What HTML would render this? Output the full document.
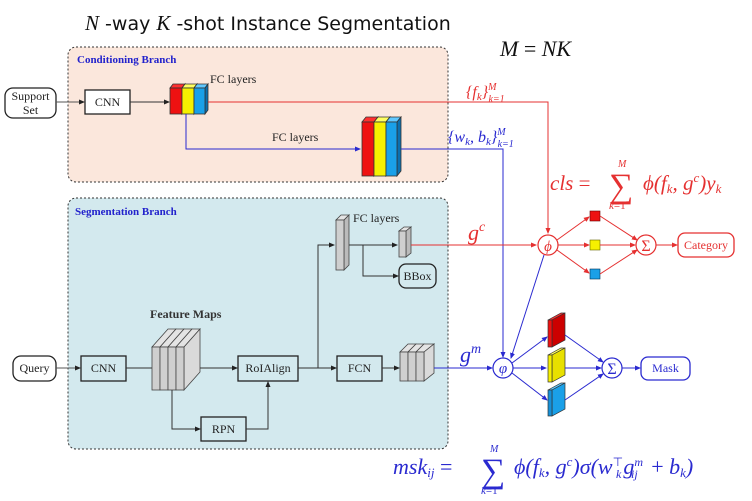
<!DOCTYPE html>
<html><head><meta charset="utf-8"><style>
html,body{margin:0;padding:0;background:#fff;}
svg{display:block;}
text{font-family:"Liberation Serif","DejaVu Serif",serif;}
.s{font-family:"Liberation Serif","DejaVu Serif",serif;font-size:12px;fill:#222;}
.m{font-family:"Liberation Serif",serif;font-style:italic;}
</style></head><body>
<svg width="752" height="501" viewBox="0 0 752 501" xmlns="http://www.w3.org/2000/svg">
<defs>
<marker id="ak" markerWidth="6" markerHeight="6" refX="5" refY="3" orient="auto"><path d="M0,0.5 L6,3 L0,5.5z" fill="#222"/></marker>
<marker id="ar" markerWidth="6" markerHeight="6" refX="5" refY="3" orient="auto"><path d="M0,0.5 L6,3 L0,5.5z" fill="#e53030"/></marker>
<marker id="ab" markerWidth="6" markerHeight="6" refX="5" refY="3" orient="auto"><path d="M0,0.5 L6,3 L0,5.5z" fill="#2a2ad0"/></marker>
</defs>

<!-- title -->
<text x="85" y="30" font-size="21" fill="#111"><tspan class="m">N</tspan><tspan font-family="DejaVu Sans, sans-serif" font-size="19"> -way  </tspan><tspan class="m">K</tspan><tspan font-family="DejaVu Sans, sans-serif" font-size="19"> -shot Instance Segmentation</tspan></text>
<text x="500" y="56" font-size="22" class="m" fill="#111">M <tspan font-style="normal">=</tspan> NK</text>

<!-- branches -->
<rect x="68" y="47" width="380" height="135" rx="8" fill="#fbe7dc" stroke="#333" stroke-dasharray="2,2"/>
<text x="77" y="63" font-size="11" fill="#2222cc" font-family="DejaVu Sans, sans-serif" font-weight="bold">Conditioning Branch</text>
<rect x="68" y="198" width="380" height="251" rx="8" fill="#d3e9ee" stroke="#333" stroke-dasharray="2,2"/>
<text x="75" y="215" font-size="11" fill="#2222cc" font-family="DejaVu Sans, sans-serif" font-weight="bold">Segmentation Branch</text>

<!-- conditioning -->
<rect x="5" y="88" width="51" height="30" rx="8" fill="#fff" stroke="#222" stroke-width="1.3"/>
<text x="30.5" y="100" class="s" text-anchor="middle">Support</text>
<text x="30.5" y="114" class="s" text-anchor="middle">Set</text>
<line x1="56" y1="102" x2="84" y2="102" stroke="#555" marker-end="url(#ak)"/>
<rect x="85" y="90" width="45" height="24" fill="#fff" stroke="#222" stroke-width="1.3"/>
<text x="107.5" y="106" class="s" text-anchor="middle">CNN</text>
<line x1="130" y1="102" x2="169" y2="102" stroke="#333" marker-end="url(#ak)"/>

<g stroke="#333" stroke-width="0.8">
<polygon points="170,88 182,88 185,84 173,84" fill="#ff3030"/><polygon points="182,88 185,84 185,110 182,114" fill="#b00"/><rect x="170" y="88" width="12" height="26" fill="#ee1111"/>
<polygon points="182,88 194,88 197,84 185,84" fill="#ffff60"/><polygon points="194,88 197,84 197,110 194,114" fill="#bb0"/><rect x="182" y="88" width="12" height="26" fill="#f6f000"/>
<polygon points="194,88 205,88 208,84 197,84" fill="#60c8ff"/><polygon points="205,88 208,84 208,110 205,114" fill="#0a70b0"/><rect x="194" y="88" width="11" height="26" fill="#1aa0e8"/>
</g>
<text x="210" y="83" class="s">FC layers</text>
<text x="272" y="141" class="s">FC layers</text>

<g stroke="#333" stroke-width="0.8">
<polygon points="362,122 374,122 378,117 366,117" fill="#ff3030"/><polygon points="374,122 378,117 378,171 374,176" fill="#b00"/><rect x="362" y="122" width="12" height="54" fill="#ee1111"/>
<polygon points="374,122 386,122 390,117 378,117" fill="#ffff60"/><polygon points="386,122 390,117 390,171 386,176" fill="#bb0"/><rect x="374" y="122" width="12" height="54" fill="#f6f000"/>
<polygon points="386,122 397,122 401,117 390,117" fill="#60c8ff"/><polygon points="397,122 401,117 401,171 397,176" fill="#0a70b0"/><rect x="386" y="122" width="11" height="54" fill="#1aa0e8"/>
</g>

<!-- red path f_k -->
<polyline points="208,102 548,102 548,233" fill="none" stroke="#e53030" stroke-width="1" marker-end="url(#ar)"/>
<text x="466" y="97" font-size="16" fill="#e53030" class="m">{f<tspan font-size="11" dy="3">k</tspan><tspan dy="-3">}</tspan><tspan font-size="10" dy="-7">M</tspan><tspan font-size="10" dx="-8" dy="12">k=1</tspan></text>
<!-- blue w,b -->
<polyline points="186,114 186,149 360,149" fill="none" stroke="#2a2ad0" marker-end="url(#ab)"/>
<polyline points="401,149 503,149 503,357" fill="none" stroke="#2a2ad0" marker-end="url(#ab)"/>
<text x="448" y="142" font-size="16" fill="#2a2ad0" class="m">{w<tspan font-size="11" dy="3">k</tspan><tspan dy="-3">, b</tspan><tspan font-size="11" dy="3">k</tspan><tspan dy="-3">}</tspan><tspan font-size="10" dy="-7">M</tspan><tspan font-size="10" dx="-8" dy="12">k=1</tspan></text>

<!-- cls formula -->
<text x="550" y="190" font-size="21" fill="#e53030" class="m">cls <tspan font-style="normal">=</tspan></text>
<text x="609" y="197" font-size="34" fill="#e53030">∑</text>
<text x="618" y="167" font-size="10" fill="#e53030" class="m">M</text>
<text x="609" y="209" font-size="11" fill="#e53030" class="m">k<tspan font-style="normal">=1</tspan></text>
<text x="643" y="190" font-size="21" fill="#e53030" class="m">ϕ(f<tspan font-size="13" dy="3">k</tspan><tspan dy="-3">, g</tspan><tspan font-size="13" dy="-8">c</tspan><tspan dy="8">)y</tspan><tspan font-size="13" dy="3">k</tspan></text>

<!-- seg branch -->
<rect x="13" y="356" width="43" height="25" rx="8" fill="#fff" stroke="#222" stroke-width="1.3"/>
<text x="34.5" y="372" class="s" text-anchor="middle">Query</text>
<line x1="56" y1="368" x2="80" y2="368" stroke="#555" marker-end="url(#ak)"/>
<rect x="81" y="356" width="45" height="25" fill="none" stroke="#222" stroke-width="1.3"/>
<text x="103.5" y="372" class="s" text-anchor="middle">CNN</text>
<line x1="126" y1="368" x2="152" y2="368" stroke="#333"/>
<text x="150" y="318" class="s" font-weight="bold" style="fill:#333">Feature Maps</text>
<g stroke="#444" stroke-width="0.8">
<polygon points="152,347 160,347 176,329 168,329" fill="#e4e4e4"/><rect x="152" y="347" width="8" height="43" fill="#cfcfcf"/>
<polygon points="160,347 168,347 184,329 176,329" fill="#e4e4e4"/><rect x="160" y="347" width="8" height="43" fill="#cfcfcf"/>
<polygon points="168,347 176,347 192,329 184,329" fill="#e4e4e4"/><rect x="168" y="347" width="8" height="43" fill="#cfcfcf"/>
<polygon points="176,347 184,347 200,329 192,329" fill="#e4e4e4"/><polygon points="184,347 200,329 200,372 184,390" fill="#dadada"/><rect x="176" y="347" width="8" height="43" fill="#cfcfcf"/>
</g>
<line x1="200" y1="368" x2="237" y2="368" stroke="#333" marker-end="url(#ak)"/>
<rect x="238" y="356" width="60" height="25" fill="none" stroke="#222" stroke-width="1.3"/>
<text x="268" y="372" class="s" text-anchor="middle">RoIAlign</text>
<polyline points="172,390 172,429 200,429" fill="none" stroke="#333" marker-end="url(#ak)"/>
<rect x="201" y="417" width="45" height="24" fill="none" stroke="#222" stroke-width="1.3"/>
<text x="223.5" y="433" class="s" text-anchor="middle">RPN</text>
<polyline points="246,429 268,429 268,382" fill="none" stroke="#333" marker-end="url(#ak)"/>
<line x1="298" y1="368" x2="336" y2="368" stroke="#333" marker-end="url(#ak)"/>
<polyline points="318,368 318,245 334,245" fill="none" stroke="#333" marker-end="url(#ak)"/>
<rect x="337" y="356" width="45" height="25" fill="none" stroke="#222" stroke-width="1.3"/>
<text x="359.5" y="372" class="s" text-anchor="middle">FCN</text>
<line x1="382" y1="368" x2="399" y2="368" stroke="#333" marker-end="url(#ak)"/>
<g stroke="#444" stroke-width="0.8">
<polygon points="400,352 408,352 416,344 408,344" fill="#e4e4e4"/><rect x="400" y="352" width="8" height="29" fill="#cfcfcf"/>
<polygon points="408,352 416,352 424,344 416,344" fill="#e4e4e4"/><rect x="408" y="352" width="8" height="29" fill="#cfcfcf"/>
<polygon points="416,352 424,352 434,344 424,344" fill="#e4e4e4"/><polygon points="424,352 434,344 434,373 424,381" fill="#dadada"/><rect x="416" y="352" width="8" height="29" fill="#cfcfcf"/>
</g>
<!-- FC bars -->
<g stroke="#444" stroke-width="0.8">
<polygon points="336,220 344,220 349,215 341,215" fill="#e4e4e4"/><polygon points="344,220 349,215 349,265 344,270" fill="#bbb"/><rect x="336" y="220" width="8" height="50" fill="#cfcfcf"/>
<polygon points="399,231 406,231 411,227 404,227" fill="#e4e4e4"/><polygon points="406,231 411,227 411,253 406,257" fill="#bbb"/><rect x="399" y="231" width="7" height="26" fill="#cfcfcf"/>
</g>
<text x="353" y="222" class="s">FC layers</text>
<line x1="349" y1="245" x2="397" y2="245" stroke="#333" marker-end="url(#ak)"/>
<polyline points="363,245 363,276 398,276" fill="none" stroke="#333" marker-end="url(#ak)"/>
<rect x="399" y="264" width="37" height="24" rx="7" fill="none" stroke="#222" stroke-width="1.3"/>
<text x="417.5" y="280" class="s" text-anchor="middle">BBox</text>

<!-- g^c path -->
<line x1="411" y1="245" x2="536" y2="245" stroke="#e53030" marker-end="url(#ar)"/>
<text x="468" y="240" font-size="22" fill="#e53030" class="m">g<tspan font-size="14" dy="-9">c</tspan></text>
<circle cx="548" cy="245" r="10" fill="#fff" stroke="#e53030" stroke-width="1.2"/>
<text x="548" y="251" font-size="15" fill="#e53030" text-anchor="middle" class="m">ϕ</text>
<line x1="557" y1="240" x2="589" y2="217" stroke="#e53030" marker-end="url(#ar)"/>
<line x1="558" y1="245" x2="589" y2="245" stroke="#e53030" marker-end="url(#ar)"/>
<line x1="557" y1="250" x2="589" y2="273" stroke="#e53030" marker-end="url(#ar)"/>
<rect x="590" y="211" width="10" height="10" fill="#ee1111" stroke="#600" stroke-width="0.6"/>
<rect x="590" y="240" width="10" height="10" fill="#f6f000" stroke="#660" stroke-width="0.6"/>
<rect x="590" y="269" width="10" height="10" fill="#1aa0e8" stroke="#035" stroke-width="0.6"/>
<line x1="600" y1="216" x2="637" y2="240" stroke="#e53030" marker-end="url(#ar)"/>
<line x1="600" y1="245" x2="635" y2="245" stroke="#e53030" marker-end="url(#ar)"/>
<line x1="600" y1="274" x2="637" y2="250" stroke="#e53030" marker-end="url(#ar)"/>
<circle cx="646" cy="245" r="10" fill="#fff" stroke="#e53030" stroke-width="1.2"/>
<text x="646" y="251" font-size="16" fill="#e53030" text-anchor="middle">Σ</text>
<line x1="656" y1="245" x2="677" y2="245" stroke="#e53030" marker-end="url(#ar)"/>
<rect x="678" y="233" width="56" height="24" rx="7" fill="#fff" stroke="#e53030" stroke-width="1.3"/>
<text x="706" y="249" class="s" style="fill:#e53030" text-anchor="middle">Category</text>

<!-- mask path -->
<line x1="544" y1="255" x2="511" y2="358" stroke="#2a2ad0" marker-end="url(#ab)"/>
<line x1="434" y1="368" x2="492" y2="368" stroke="#2a2ad0" marker-end="url(#ab)"/>
<text x="460" y="362" font-size="22" fill="#2a2ad0" class="m">g<tspan font-size="14" dy="-9">m</tspan></text>
<circle cx="503" cy="368" r="10" fill="#fff" stroke="#2a2ad0" stroke-width="1.2"/>
<text x="503" y="373" font-size="15" fill="#2a2ad0" text-anchor="middle" class="m">φ</text>
<line x1="512" y1="363" x2="547" y2="337" stroke="#2a2ad0" marker-end="url(#ab)"/>
<line x1="513" y1="368" x2="546" y2="368" stroke="#2a2ad0" marker-end="url(#ab)"/>
<line x1="512" y1="373" x2="547" y2="400" stroke="#2a2ad0" marker-end="url(#ab)"/>
<g stroke="#333" stroke-width="0.7">
<polygon points="548,320 552,320 565,313 561,313" fill="#ff3030"/><polygon points="552,320 565,313 565,340 552,347" fill="#cc0000"/><rect x="548" y="320" width="4" height="27" fill="#ee1111"/>
<polygon points="548,355 552,355 565,348 561,348" fill="#ffff60"/><polygon points="552,355 565,348 565,375 552,382" fill="#e8e000"/><rect x="548" y="355" width="4" height="27" fill="#f6f000"/>
<polygon points="548,390 552,390 565,383 561,383" fill="#60c8ff"/><polygon points="552,390 565,383 565,409 552,416" fill="#1aa0e8"/><rect x="548" y="390" width="4" height="26" fill="#1590d8"/>
</g>
<line x1="565" y1="335" x2="603" y2="362" stroke="#2a2ad0" marker-end="url(#ab)"/>
<line x1="565" y1="368" x2="601" y2="368" stroke="#2a2ad0" marker-end="url(#ab)"/>
<line x1="565" y1="400" x2="603" y2="374" stroke="#2a2ad0" marker-end="url(#ab)"/>
<circle cx="612" cy="368" r="10" fill="#fff" stroke="#2a2ad0" stroke-width="1.2"/>
<text x="612" y="374" font-size="16" fill="#2a2ad0" text-anchor="middle">Σ</text>
<line x1="622" y1="368" x2="640" y2="368" stroke="#2a2ad0" marker-end="url(#ab)"/>
<rect x="641" y="357" width="49" height="23" rx="7" fill="#fff" stroke="#2a2ad0" stroke-width="1.3"/>
<text x="665.5" y="372" class="s" style="fill:#2a2ad0" text-anchor="middle">Mask</text>

<!-- msk formula -->
<text x="393" y="474" font-size="22" fill="#2a2ad0" class="m">msk<tspan font-size="13" dy="3">ij</tspan><tspan dy="-3" font-style="normal"> =</tspan></text>
<text x="481" y="482" font-size="34" fill="#2a2ad0">∑</text>
<text x="490" y="452" font-size="10" fill="#2a2ad0" class="m">M</text>
<text x="481" y="494" font-size="11" fill="#2a2ad0" class="m">k<tspan font-style="normal">=1</tspan></text>
<text x="514" y="474" font-size="22" fill="#2a2ad0" class="m">ϕ(f<tspan font-size="13" dy="3">k</tspan><tspan dy="-3">, g</tspan><tspan font-size="13" dy="-8">c</tspan><tspan dy="8">)σ(w</tspan><tspan font-size="12" dy="-8" font-style="normal">⊤</tspan><tspan font-size="12" dx="-7" dy="12">k</tspan><tspan dy="-4" dx="2">g</tspan><tspan font-size="12" dy="-8">m</tspan><tspan font-size="12" dx="-12" dy="12">ij</tspan><tspan dy="-4" dx="8" font-style="normal"> + </tspan>b<tspan font-size="13" dy="3">k</tspan><tspan dy="-3">)</tspan></text>
</svg>
</body></html>
